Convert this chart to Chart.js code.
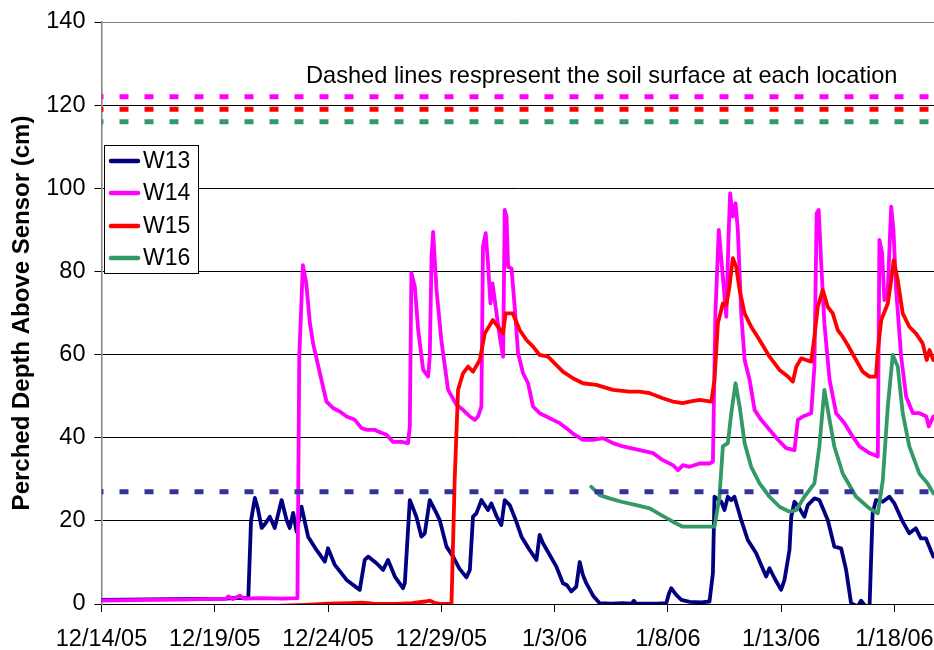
<!DOCTYPE html>
<html>
<head>
<meta charset="utf-8">
<script src="https://cdn.jsdelivr.net/npm/chart.js@4.4.1/dist/chart.umd.min.js"></script>
<style>
  html, body { margin: 0; padding: 0; background: #fff; }
  #wrap { width: 934px; height: 650px; position: relative; }
</style>
</head>
<body>
<div id="wrap"><canvas id="c" width="934" height="650"></canvas></div>
<script>
// ---- Data (x = days since 12/14/05, y = perched depth in cm) ----
const tickLabels = ['12/14/05', '12/19/05', '12/24/05', '12/29/05', '1/3/06', '1/8/06', '1/13/06', '1/18/06'];
const tickDays = [0, 5, 10, 15, 20, 25, 30, 35];
const seriesNames = ['W13', 'W14', 'W15', 'W16'];

const w13Days = [0, 2, 4, 5.5, 6.0, 6.4, 6.48, 6.6, 6.77, 6.9, 7.07, 7.25, 7.43, 7.65, 7.95, 8.17, 8.31, 8.46, 8.61, 8.83, 9.12, 9.49, 9.86, 10.0, 10.3, 10.82, 11.4, 11.62, 11.77, 12.14, 12.43, 12.65, 12.95, 13.31, 13.39, 13.61, 13.9, 14.12, 14.27, 14.49, 14.79, 14.93, 15.23, 15.52, 15.8, 16.11, 16.26, 16.4, 16.55, 16.77, 17.06, 17.21, 17.45, 17.65, 17.8, 18.02, 18.3, 18.54, 18.9, 19.2, 19.34, 19.49, 20.08, 20.37, 20.55, 20.74, 20.96, 21.11, 21.25, 21.4, 21.7, 21.99, 22.5, 23.0, 23.4, 23.5, 23.6, 24.5, 24.93, 25.05, 25.15, 25.37, 25.6, 25.96, 26.5, 26.84, 26.99, 27.06, 27.36, 27.5, 27.65, 27.8, 27.94, 28.24, 28.53, 28.9, 29.12, 29.34, 29.49, 29.71, 30.0, 30.15, 30.37, 30.45, 30.59, 30.81, 31.03, 31.18, 31.47, 31.69, 32.06, 32.35, 32.65, 32.87, 33.09, 33.38, 33.53, 33.65, 33.9, 34.04, 34.19, 34.49, 34.78, 35.0, 35.37, 35.66, 35.95, 36.17, 36.39, 36.72];
const w13Depth = [1.0, 1.1, 1.2, 1.3, 1.5, 1.4, 1.5, 20, 25.5, 23, 18.3, 19.5, 21, 18.3, 25, 20.2, 18.3, 21.9, 17.4, 23.4, 16.2, 13, 10.2, 13.4, 9.4, 5.8, 3.4, 10.6, 11.4, 9.8, 8.2, 10.6, 6.6, 3.8, 5, 25, 21, 16.2, 17, 25, 21.8, 20.2, 13.8, 11.4, 8.5, 6.4, 8.2, 21, 21.8, 25, 22.6, 24.2, 21, 19, 25, 23.8, 20, 16.2, 13, 10.6, 16.6, 14.6, 9, 5, 4.5, 3, 4.2, 10.1, 7, 5, 2, 0.2, 0.1, 0.2, 0.1, 0.8, 0.1, 0.1, 0.2, 2.5, 3.8, 2.2, 1, 0.5, 0.4, 0.6, 7.4, 25.8, 24.6, 22.6, 25.8, 25, 25.8, 20.2, 15.4, 12.2, 9.4, 6.6, 8.6, 6.2, 3.4, 5.8, 13, 21, 24.6, 23, 21, 23.8, 25.4, 25, 20.2, 13.8, 13.4, 8.2, 0.2, -0.6, 0.8, 0, -1.5, 21.8, 25, 24.6, 25.8, 24.2, 19.8, 17, 18.2, 15.8, 15.8, 11.4];

const w14Days = [0, 2, 4, 5.5, 5.6, 5.8, 6.1, 6.3, 7, 8, 8.65, 8.73, 8.89, 9.04, 9.2, 9.34, 9.64, 9.93, 10.23, 10.52, 10.82, 11.18, 11.48, 11.7, 12.06, 12.21, 12.58, 12.87, 13.24, 13.53, 13.61, 13.68, 13.83, 13.98, 14.2, 14.42, 14.49, 14.57, 14.64, 14.79, 15.0, 15.3, 15.67, 15.96, 16.26, 16.48, 16.62, 16.77, 16.84, 16.96, 17.06, 17.17, 17.26, 17.36, 17.58, 17.73, 17.8, 17.88, 17.95, 18.1, 18.24, 18.39, 18.61, 18.83, 19.05, 19.34, 19.64, 19.93, 20.23, 20.52, 20.81, 21.25, 21.7, 22.14, 22.58, 23.02, 23.76, 24.35, 24.78, 25.22, 25.45, 25.67, 25.96, 26.4, 26.84, 26.99, 27.1, 27.25, 27.43, 27.58, 27.68, 27.75, 27.87, 27.99, 28.09, 28.24, 28.39, 28.61, 28.83, 29.12, 29.49, 29.86, 30.22, 30.59, 30.74, 30.96, 31.33, 31.47, 31.57, 31.66, 31.77, 31.91, 32.14, 32.43, 32.8, 33.16, 33.46, 33.9, 34.27, 34.34, 34.46, 34.56, 34.71, 34.86, 34.96, 35.08, 35.3, 35.52, 35.82, 36.11, 36.41, 36.52, 36.72];
const w14Depth = [0.8, 1.0, 1.1, 1.3, 1.8, 1.2, 2.0, 1.3, 1.4, 1.3, 1.4, 59.5, 81.5, 77.1, 67.5, 62.7, 55.5, 48.7, 47.1, 46.3, 45.1, 44.3, 42.3, 41.9, 41.9, 41.5, 40.7, 39, 39, 38.7, 42.7, 79.6, 76.4, 65.9, 56.3, 54.7, 59.5, 83.6, 89.5, 75.5, 63.5, 51.5, 47.9, 46.7, 45.1, 44.3, 45.1, 47.5, 86, 89.2, 82, 72.3, 77.1, 73.1, 64.3, 59.5, 94.8, 93.2, 81.1, 80.7, 71.5, 60.3, 55.5, 53.1, 47.5, 45.9, 45.1, 44.3, 43.5, 42.3, 41, 39.5, 39.5, 39.9, 38.7, 37.9, 37, 36.3, 34.6, 33.4, 32.2, 33.4, 33, 33.8, 33.8, 34.2, 69.9, 90, 78.7, 69.1, 88.4, 98.8, 93.2, 96.4, 90, 69.9, 58.7, 53.9, 46.7, 44.3, 41.9, 39.5, 37.5, 37, 44.3, 45.1, 45.9, 57.1, 94, 94.8, 82, 67.5, 53.9, 45.9, 43.5, 40.3, 37.9, 36.3, 35.5, 87.6, 84.4, 73.1, 75.5, 95.6, 90, 75.5, 59.5, 49.9, 45.9, 45.9, 45.1, 42.7, 45.1];

const w15Days = [7.3, 8.0, 9.0, 10, 11, 11.5, 12, 13, 13.7, 14.3, 14.5, 14.7, 15.0, 15.45, 15.59, 15.74, 15.96, 16.18, 16.4, 16.7, 16.92, 17.28, 17.5, 17.72, 17.84, 18.16, 18.46, 18.76, 19.05, 19.34, 19.71, 19.93, 20.37, 20.81, 21.25, 21.84, 22.58, 23.31, 23.75, 24.2, 24.78, 25.22, 25.66, 25.96, 26.4, 26.92, 27.06, 27.21, 27.43, 27.58, 27.72, 27.87, 28.02, 28.17, 28.39, 28.68, 29.05, 29.49, 29.93, 30.3, 30.52, 30.67, 30.89, 31.11, 31.33, 31.47, 31.62, 31.84, 32.06, 32.28, 32.5, 32.72, 32.94, 33.31, 33.6, 33.9, 34.19, 34.26, 34.42, 34.71, 34.86, 34.97, 35.15, 35.37, 35.66, 35.95, 36.25, 36.43, 36.55, 36.72];
const w15Depth = [-0.6, -0.4, -0.2, 0.1, 0.2, 0.3, 0.1, 0, 0.2, 0.6, 0.8, 0.3, 0, 0, 29.8, 51.5, 55.5, 57.1, 55.9, 58.7, 65.1, 68.3, 66.7, 65.1, 69.9, 69.9, 65.9, 63.5, 61.9, 59.9, 59.5, 58.3, 55.9, 54.3, 53.1, 52.7, 51.5, 51.1, 51.1, 50.7, 49.5, 48.7, 48.3, 48.7, 49.1, 48.7, 53.9, 67.5, 72.3, 71.9, 76.3, 83.2, 81.1, 75.5, 69.9, 66.7, 63.5, 59.5, 56.3, 54.7, 53.5, 57.1, 59.1, 58.7, 58.3, 64.3, 71.5, 75.5, 71.5, 69.9, 65.9, 64.3, 62.3, 58.7, 55.9, 54.7, 54.7, 60.3, 68.3, 72.3, 77.9, 82.7, 77.9, 69.9, 66.7, 65.1, 62.7, 58.7, 61.1, 58.7];

const w16Days = [21.62, 21.99, 22.43, 22.95, 23.61, 24.2, 24.71, 25.22, 25.66, 25.96, 26.55, 27.06, 27.28, 27.43, 27.65, 27.8, 27.99, 28.17, 28.39, 28.68, 29.05, 29.49, 29.93, 30.37, 30.67, 31.03, 31.47, 31.69, 31.91, 32.14, 32.35, 32.72, 33.31, 33.9, 34.27, 34.49, 34.71, 34.93, 35.15, 35.37, 35.66, 36.1, 36.47, 36.72];
const w16Depth = [28.2, 26.2, 25.4, 24.6, 23.8, 23, 21.4, 19.8, 18.6, 18.6, 18.6, 18.6, 25.8, 37.9, 38.7, 45.9, 53.1, 47.5, 38.7, 33, 29, 25.8, 23.4, 22.2, 22.6, 25.8, 29, 37.9, 51.5, 44.3, 37.9, 31.4, 25.8, 23, 21.8, 29.8, 47.5, 59.9, 57.1, 45.9, 37.9, 31.4, 29, 26.6];

// soil surface levels (dashed lines) for W13, W14, W15, W16
const surfaceLevels = [27, 122, 119, 116];

const xMax = 36.75;
const yMax = 140;

// ---- styles ----
const seriesColors = ['#000080', '#FF00FF', '#FF0000', '#339966'];
const surfaceColors = ['#333399', '#FF00FF', '#FF0000', '#339966'];
const FONT = '"Liberation Sans", Arial, Helvetica, sans-serif';

function pts(xs, ys) { return xs.map((x, i) => ({ x: x, y: ys[i] })); }

const seriesData = [pts(w13Days, w13Depth), pts(w14Days, w14Depth), pts(w15Days, w15Depth), pts(w16Days, w16Depth)];

const datasets = [];
surfaceLevels.forEach((lvl, i) => {
  datasets.push({
    label: seriesNames[i] + ' surface',
    data: [{ x: 0, y: lvl }, { x: xMax, y: lvl }],
    borderColor: surfaceColors[i],
    borderWidth: 5,
    borderDash: [9, 16],
    borderDashOffset: 7,
    borderCapStyle: 'butt',
    pointRadius: 0,
    fill: false,
    order: 0
  });
});
seriesData.forEach((d, i) => {
  datasets.push({
    label: seriesNames[i],
    data: d,
    borderColor: seriesColors[i],
    borderWidth: 3.8,
    borderJoinStyle: 'round',
    borderCapStyle: 'round',
    pointRadius: 0,
    tension: 0,
    fill: false,
    order: 4 - i
  });
});

const overlayPlugin = {
  id: 'overlay',
  afterDraw(chart) {
    const ctx = chart.ctx;
    ctx.save();
    // annotation
    ctx.fillStyle = '#000';
    ctx.font = '23.6px ' + FONT;
    ctx.textBaseline = 'alphabetic';
    ctx.textAlign = 'left';
    ctx.fillText('Dashed lines respresent the soil surface at each location', 306, 83);
    // legend box
    const bx = 104.5, by = 145.5, bw = 94, bh = 128;
    ctx.fillStyle = '#fff';
    ctx.fillRect(bx, by, bw, bh);
    ctx.strokeStyle = '#000';
    ctx.lineWidth = 1;
    ctx.strokeRect(bx, by, bw, bh);
    const rowY = [161, 193, 226, 258];
    seriesNames.forEach((n, i) => {
      ctx.strokeStyle = seriesColors[i];
      ctx.lineWidth = 4.5;
      ctx.lineCap = 'round';
      ctx.beginPath();
      ctx.moveTo(111, rowY[i]);
      ctx.lineTo(138, rowY[i]);
      ctx.stroke();
      ctx.fillStyle = '#000';
      ctx.font = '23px ' + FONT;
      ctx.textBaseline = 'middle';
      ctx.fillText(n, 143, rowY[i] + 1);
    });
    ctx.restore();
  }
};

new Chart(document.getElementById('c'), {
  type: 'line',
  data: { datasets: datasets },
  options: {
    responsive: false,
    animation: false,
    events: [],
    layout: { padding: { top: 22, right: 0, bottom: 0, left: 0 } },
    plugins: { legend: { display: false }, tooltip: { enabled: false } },
    scales: {
      x: {
        type: 'linear',
        min: 0,
        max: xMax,
        afterBuildTicks(scale) {
          scale.ticks = tickDays.map(v => ({ value: v }));
        },
        afterFit(scale) {
          scale.height = 46;
          scale.paddingLeft = 0;
          scale.paddingRight = 0;
        },
        ticks: {
          autoSkip: false,
          maxRotation: 0,
          padding: 13,
          color: '#000',
          font: { family: FONT, size: 23.5 },
          callback: (v) => tickLabels[tickDays.indexOf(v)]
        },
        grid: {
          drawOnChartArea: false,
          drawTicks: true,
          tickLength: 8,
          tickColor: '#000',
          lineWidth: 1
        },
        border: { display: true, color: '#000', width: 1 }
      },
      y: {
        type: 'linear',
        min: 0,
        max: yMax,
        afterFit(scale) {
          scale.width = 101.5;
          scale.paddingTop = 0;
          scale.paddingBottom = 0;
        },
        ticks: {
          stepSize: 20,
          padding: 9,
          color: '#000',
          font: { family: FONT, size: 23.5 }
        },
        grid: {
          drawTicks: true,
          tickLength: 7,
          color: (c) => (c.tick && c.tick.value === yMax) ? '#808080' : '#000',
          tickColor: '#000',
          lineWidth: 1
        },
        border: { display: true, color: '#808080', width: 1.5 },
        title: {
          display: true,
          text: 'Perched Depth Above Sensor (cm)',
          color: '#000',
          font: { family: FONT, size: 24, weight: 'bold' },
          padding: { top: 8, bottom: 0 }
        }
      }
    }
  },
  plugins: [overlayPlugin]
});
</script>
</body>
</html>
